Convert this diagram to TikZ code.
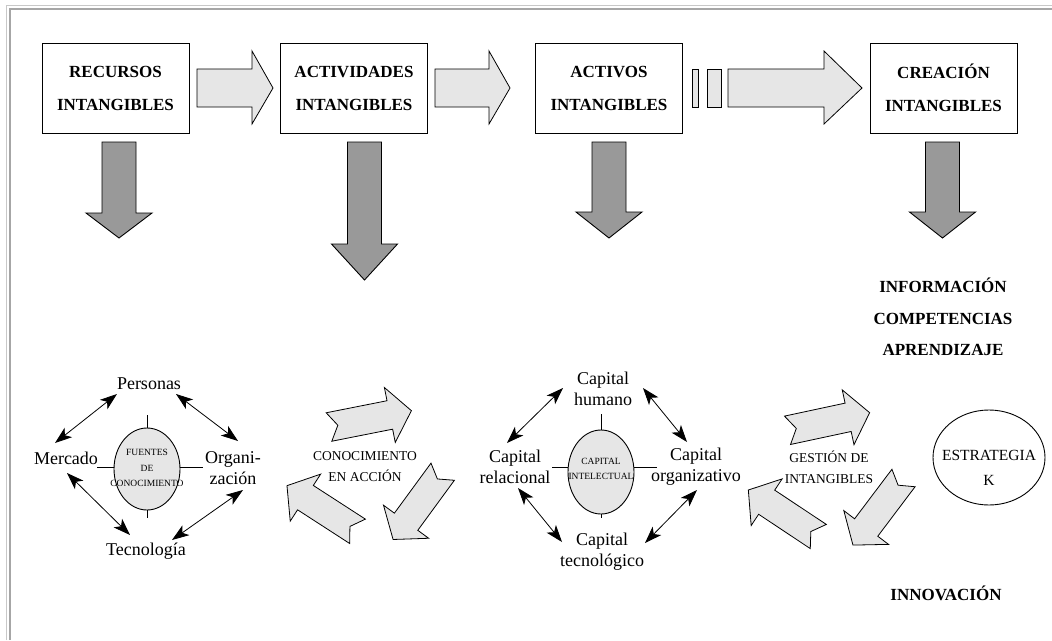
\documentclass[tikz,border=0pt]{standalone}
\usepackage{fontspec}
\setmainfont{Liberation Serif}
\usetikzlibrary{arrows.meta,shapes.geometric}

\definecolor{lightfill}{HTML}{E6E6E6}
\definecolor{darkfill}{HTML}{999999}
\definecolor{frameout}{HTML}{C8C8C8}
\definecolor{framein}{HTML}{A6A6A6}

\tikzset{
  box/.style={draw, line width=1pt, minimum width=147pt, minimum height=90pt,
    inner sep=0pt, align=center, font=\fontsize{17}{33}\selectfont\bfseries},
  boldtxt/.style={align=center, inner sep=0pt, font=\fontsize{17}{31.5}\selectfont\bfseries},
  lbl/.style={align=center, inner sep=0pt, font=\fontsize{18}{21}\selectfont},
  cyctxt/.style={align=center, inner sep=0pt, font=\fontsize{13.5}{21}\selectfont},
  smalltxt/.style={align=center, inner sep=0pt, font=\fontsize{9.5}{15.5}\selectfont},
  hub/.style={draw, ellipse, fill=lightfill, line width=0.9pt, minimum width=66pt, inner sep=0pt},
  lightarrow/.style={draw, fill=lightfill, line width=0.8pt, line join=miter},
  darkarrow/.style={draw, fill=darkfill, line width=0.9pt, line join=miter},
  dbl/.style={{Stealth[length=17pt,width=12pt,inset=4.5pt]}-{Stealth[length=17pt,width=12pt,inset=4.5pt]}, line width=0.8pt},
}

% right-pointing block arrow: start x, head x, tip x
\newcommand{\rarrow}[3]{%
  \draw[lightarrow] (#1,69) -- (#2,69) -- (#2,51) -- (#3,88) -- (#2,124) -- (#2,107) -- (#1,107) -- cycle;}
% downward block arrow: centre x, top y, head y, tip y
\newcommand{\darrow}[4]{%
  \draw[darkarrow] (#1-17,#2) -- (#1+17,#2) -- (#1+17,#3) -- (#1+33,#3) -- (#1,#4) -- (#1-33,#3) -- (#1-17,#3) -- cycle;}
% notched block arrow of a cycle: tail x, tail y, direction
\newcommand{\cycarrow}[3]{%
  \draw[lightarrow, shift={(#1,#2)}, rotate=#3]
    (0,-14.5) -- (62,-14.5) -- (62,-28) -- (84,0) -- (62,28) -- (62,14.5) -- (0,14.5) -- (9,0) -- cycle;}

\begin{document}
\begin{tikzpicture}[x=1pt, y=-1pt]
\useasboundingbox (0,0) rectangle (1052,640);

% page frame
\draw[frameout, line width=1.3pt] (6.5,640) -- (6.5,5.5) -- (1052,5.5);
\draw[framein, line width=2pt] (10,640) -- (10,9) -- (1052,9);

% top row of boxes
\node[box] (rec) at (115.5,88) {RECURSOS\\INTANGIBLES};
\node[box] (act) at (354,88) {ACTIVIDADES\\INTANGIBLES};
\node[box] (acv) at (609,88) {ACTIVOS\\INTANGIBLES};
\node[box] (cre) at (943.5,88) {CREACIÓN\\INTANGIBLES};

% arrows between the boxes
\rarrow{197}{252}{273}
\rarrow{435}{489}{510}
\draw[lightarrow] (692,69) rectangle (698,107);
\draw[lightarrow] (707,69) rectangle (721,107);
\rarrow{728}{824}{862}

% downward arrows
\darrow{119}{142}{213}{238}
\darrow{364.5}{142}{244}{280}
\darrow{609}{142}{212}{238}
\darrow{942.5}{142}{212}{238}

% right column
\node[boldtxt] (info) at (943,317) {INFORMACIÓN\\COMPETENCIAS\\APRENDIZAJE};
\node[boldtxt] (innov) at (946,593) {INNOVACIÓN};

% sources of knowledge
\draw[line width=0.9pt] (147,415) -- (147,518);
\draw[line width=0.9pt] (97,467) -- (203,467);
\node[hub, minimum height=82pt] (fk) at (147,469) {};
\node[smalltxt] (fkt) at (147,468) {FUENTES\\DE\\CONOCIMIENTO};
\node[lbl] (pers) at (149,384) {Personas};
\node[lbl] (merc) at (66,458) {Mercado};
\node[lbl] (org) at (233,468) {Organi-\\zación};
\node[lbl] (tec) at (146,551) {Tecnología};

\coordinate (pm1) at (117,394); \coordinate (pm2) at (55,443);
\coordinate (po1) at (176,394); \coordinate (po2) at (238,441);
\coordinate (mt1) at (67,473);  \coordinate (mt2) at (130,535);
\coordinate (ot1) at (243,490); \coordinate (ot2) at (172,540);
\draw[dbl] (pm1) -- (pm2);
\draw[dbl] (po1) -- (po2);
\draw[dbl] (mt1) -- (mt2);
\draw[dbl] (ot1) -- (ot2);

% knowledge in action
\cycarrow{329}{427}{11.2}
\cycarrow{442.7}{471.7}{233.8}
\cycarrow{357.5}{531.3}{147.1}
\node[cyctxt] (cea) at (365,467) {CONOCIMIENTO\\EN ACCIÓN};

% intellectual capital
\draw[line width=0.9pt] (601,414) -- (601,518);
\draw[line width=0.9pt] (552,467) -- (657,467);
\node[hub, minimum height=84pt] (ci) at (601,472) {};
\node[smalltxt] (cit) at (601,469) {CAPITAL\\INTELECTUAL};
\node[lbl] (hum) at (603,389) {Capital\\humano};
\node[lbl] (rel) at (515,467) {Capital\\relacional};
\node[lbl] (orz) at (696,467) {Capital\\organizativo};
\node[lbl] (tcn) at (602,552) {Capital\\tecnológico};

\coordinate (hr1) at (563,388); \coordinate (hr2) at (507,443);
\coordinate (ho1) at (643,388); \coordinate (ho2) at (687,442);
\coordinate (rt1) at (518,488); \coordinate (rt2) at (562,542);
\coordinate (ote1) at (697,490); \coordinate (ote2) at (645,543);
\draw[dbl] (hr1) -- (hr2);
\draw[dbl] (ho1) -- (ho2);
\draw[dbl] (rt1) -- (rt2);
\draw[dbl] (ote1) -- (ote2);

% management of intangibles
\cycarrow{787.5}{430.3}{12.1}
\cycarrow{903.5}{478}{233}
\cycarrow{818.3}{536.5}{146.4}
\node[cyctxt] (gdi) at (829,467) {GESTIÓN DE\\INTANGIBLES};

% strategy
\node[draw, ellipse, line width=0.9pt, minimum width=112pt, minimum height=95pt, inner sep=0pt] (estr) at (989,457.5) {};
\node[align=center, inner sep=0pt, font=\fontsize{15.5}{25}\selectfont] (estrt) at (989,468) {ESTRATEGIA\\K};
\end{tikzpicture}
\end{document}
